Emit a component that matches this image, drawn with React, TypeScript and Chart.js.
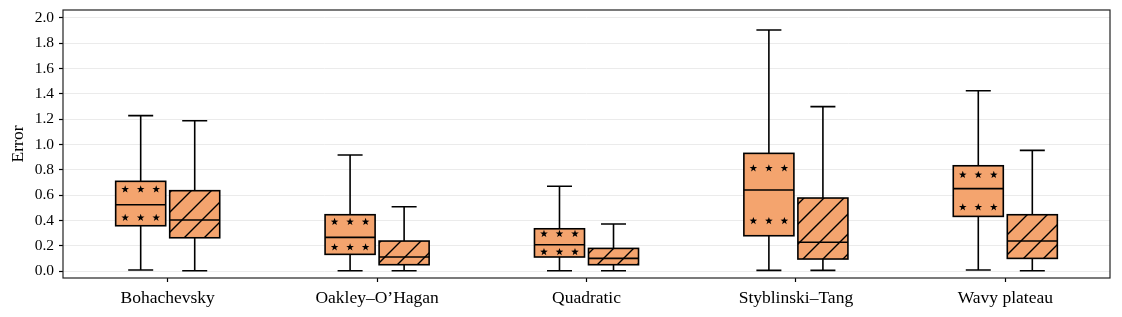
import React, { useEffect, useRef } from "react";
import { Chart, registerables } from "chart.js";

Chart.register(...registerables);

const categories = ["Bohachevsky", "Oakley–O’Hagan", "Quadratic", "Styblinski–Tang", "Wavy plateau"];

const starLow = [0.008, 0.002, 0.002, 0.005, 0.008];
const starQ1 = [0.358, 0.132, 0.111, 0.279, 0.432];
const starMedian = [0.524, 0.266, 0.208, 0.64, 0.651];
const starQ3 = [0.709, 0.445, 0.334, 0.93, 0.832];
const starHigh = [1.228, 0.917, 0.67, 1.905, 1.425];

const hatchLow = [0.002, 0.002, 0.002, 0.005, 0.002];
const hatchQ1 = [0.263, 0.05, 0.05, 0.095, 0.1];
const hatchMedian = [0.403, 0.111, 0.1, 0.227, 0.237];
const hatchQ3 = [0.635, 0.237, 0.179, 0.577, 0.445];
const hatchHigh = [1.188, 0.508, 0.372, 1.299, 0.954];

const yTicks = [0.0, 0.2, 0.4, 0.6, 0.8, 1.0, 1.2, 1.4, 1.6, 1.8, 2.0];

const FILL = "#F4A46E";
const FONT = "'Liberation Serif', 'Times New Roman', serif";

const stats = [
  { low: starLow, q1: starQ1, med: starMedian, q3: starQ3, high: starHigh, hatch: "star" },
  { low: hatchLow, q1: hatchQ1, med: hatchMedian, q3: hatchQ3, high: hatchHigh, hatch: "diag" },
];

function drawStar(ctx: CanvasRenderingContext2D, cx: number, cy: number, R: number, r: number) {
  ctx.beginPath();
  for (let k = 0; k < 10; k++) {
    const ang = -Math.PI / 2 + (k * Math.PI) / 5;
    const rad = k % 2 === 0 ? R : r;
    const px = cx + rad * Math.cos(ang);
    const py = cy + rad * Math.sin(ang);
    if (k === 0) ctx.moveTo(px, py);
    else ctx.lineTo(px, py);
  }
  ctx.closePath();
  ctx.fill();
}

const boxPlugin = {
  id: "boxPlugin",
  afterDatasetsDraw(chart: any) {
    const ctx: CanvasRenderingContext2D = chart.ctx;
    const yScale = chart.scales.y;
    stats.forEach((s, d) => {
      const meta = chart.getDatasetMeta(d);
      meta.data.forEach((bar: any, i: number) => {
        const { x, width } = bar.getProps(["x", "width"], true);
        const left = x - width / 2;
        const right = x + width / 2;
        const top = yScale.getPixelForValue(s.q3[i]);
        const bottom = yScale.getPixelForValue(s.q1[i]);
        const h = bottom - top;
        ctx.save();
        ctx.beginPath();
        ctx.rect(left, top, width, h);
        ctx.clip();
        ctx.fillStyle = "#000";
        ctx.strokeStyle = "#000";
        if (s.hatch === "star") {
          [0.19, 0.5, 0.81].forEach((fx) => {
            [0.18, 0.82].forEach((fy) => {
              drawStar(ctx, left + fx * width, top + fy * h, 4, 1.6);
            });
          });
        } else {
          ctx.lineWidth = 1.4;
          const sp = 20;
          const phase = 2;
          const cMin = left + top;
          const cMax = right + bottom;
          let c = Math.floor((cMin - phase) / sp) * sp + phase;
          ctx.beginPath();
          for (; c <= cMax + sp; c += sp) {
            ctx.moveTo(c - bottom - 5, bottom + 5);
            ctx.lineTo(c - top + 5, top - 5);
          }
          ctx.stroke();
        }
        ctx.restore();

        ctx.save();
        ctx.strokeStyle = "#000";
        ctx.lineWidth = 1.6;
        ctx.strokeRect(left, top, width, h);
        const ym = yScale.getPixelForValue(s.med[i]);
        const yl = yScale.getPixelForValue(s.low[i]);
        const yh = yScale.getPixelForValue(s.high[i]);
        const cap = width / 4;
        ctx.beginPath();
        ctx.moveTo(left, ym);
        ctx.lineTo(right, ym);
        ctx.moveTo(x, top);
        ctx.lineTo(x, yh);
        ctx.moveTo(x - cap, yh);
        ctx.lineTo(x + cap, yh);
        ctx.moveTo(x, bottom);
        ctx.lineTo(x, yl);
        ctx.moveTo(x - cap, yl);
        ctx.lineTo(x + cap, yl);
        ctx.stroke();
        ctx.restore();
      });
    });
    const a = chart.chartArea;
    ctx.save();
    ctx.strokeStyle = "#222";
    ctx.lineWidth = 1.2;
    ctx.strokeRect(a.left, a.top, a.right - a.left, a.bottom - a.top);
    ctx.restore();
  },
};

export default function App() {
  const ref = useRef<HTMLCanvasElement | null>(null);
  useEffect(() => {
    document.body.style.margin = "0";
    if (!ref.current) return;
    const chart = new Chart(ref.current, {
      type: "bar",
      data: {
        labels: categories,
        datasets: stats.map((s) => ({
          data: s.q1.map((v, i) => [v, s.q3[i]]),
          backgroundColor: FILL,
          borderWidth: 0,
          categoryPercentage: 0.516,
          barPercentage: 0.926,
        })),
      },
      options: {
        responsive: false,
        animation: false,
        layout: { padding: { left: 0, top: 10, right: 12, bottom: 0 } },
        plugins: { legend: { display: false }, tooltip: { enabled: false } },
        scales: {
          x: {
            type: "category",
            offset: true,
            border: { display: false },
            grid: {
              offset: false,
              drawOnChartArea: false,
              drawTicks: true,
              tickLength: 4,
              tickColor: "#000",
              tickWidth: 1.2,
            },
            ticks: {
              color: "#000",
              padding: 6,
              maxRotation: 0,
              autoSkip: false,
              font: { family: FONT, size: 17.5 },
            },
            afterFit(scale: any) {
              scale.height = 39;
              scale.paddingLeft = 0;
              scale.paddingRight = 0;
            },
          },
          y: {
            type: "linear",
            min: -0.055,
            max: 2.063,
            border: { display: false },
            grid: {
              color: "#EBEBEB",
              lineWidth: 1,
              drawTicks: true,
              tickLength: 4,
              tickColor: "#000",
              tickWidth: 1.2,
            },
            afterBuildTicks(scale: any) {
              scale.ticks = yTicks.map((v) => ({ value: v }));
            },
            ticks: {
              color: "#000",
              padding: 5,
              font: { family: FONT, size: 15.5 },
              callback: (v: any) => Number(v).toFixed(1),
            },
            title: {
              display: true,
              text: "Error",
              color: "#000",
              font: { family: FONT, size: 17.5 },
              padding: { top: 8, bottom: 0 },
            },
            afterFit(scale: any) {
              scale.width = 63;
              scale.paddingTop = 0;
              scale.paddingBottom = 0;
            },
          },
        },
      },
      plugins: [boxPlugin],
    } as any);
    return () => chart.destroy();
  }, []);
  return (
    <div style={{ width: 1122, height: 317 }}>
      <canvas ref={ref} width={1122} height={317} style={{ display: "block" }} />
    </div>
  );
}
